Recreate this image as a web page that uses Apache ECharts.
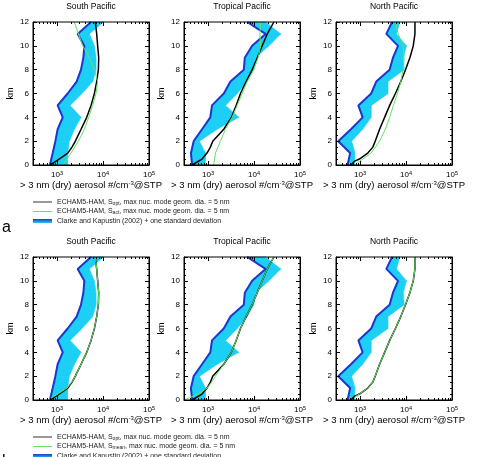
<!DOCTYPE html>
<html>
<head>
<meta charset="utf-8">
<script src="https://cdn.jsdelivr.net/npm/echarts@6/dist/echarts.min.js"></script>
<style>
html, body { margin: 0; padding: 0; background: #fff; }
#chart { width: 490px; height: 457px; }
</style>
</head>
<body>
<div id="chart"></div>
<script>
// observation levels (km) for the Clarke and Kapustin profiles
var obsKm = [0, 1, 2, 3, 4, 5, 6, 7, 8, 9, 10, 11, 12];

// South Pacific
var spObsMean = [700, 805, 920, 1030, 1330, 1030, 1700, 2670, 3320, 3740, 3920, 2810, 5480];
var spObsUpper = [1700, 1700, 1850, 2380, 3320, 1920, 3490, 5960, 7050, 7050, 6470, 5030, 10200];
var spBlackKm = [0, 0.4, 1, 1.5, 2, 3, 4, 5, 6, 7, 8, 9, 10, 11, 12];
var spBlack = [705, 1030, 1710, 2120, 2500, 3330, 4420, 5490, 6490, 7280, 7920, 8050, 7650, 7280, 6810];
var spGreenAKm = [0, 1, 2, 3, 4, 5, 6, 7, 8, 9, 10, 11, 12];
var spGreenA = [1330, 2010, 2910, 3930, 4880, 5960, 7040, 7650, 6490, 5050, 3610, 2910, 2380];
var spGreenBKm = [0, 0.4, 1, 1.5, 2, 3, 4, 5, 6, 7, 8, 9, 10, 11, 12];
var spGreenB = [630, 950, 1650, 2100, 2500, 3330, 4420, 5490, 6490, 7280, 7920, 8050, 7650, 7280, 6810];

// Tropical Pacific
var tpObsMean = [450, 425, 487, 740, 1120, 1220, 2200, 3070, 6000, 6300, 9100, 17800, 7100];
var tpObsUpper = [875, 875, 650, 1570, 4650, 2390, 4300, 7100, 9900, 10800, 21000, 38000, 17800];
var tpBlackKm = [0, 0.5, 1, 1.5, 2, 3, 4, 5, 6, 7, 8, 9, 10, 11, 12];
var tpBlack = [448, 740, 950, 1125, 1264, 2198, 3230, 4085, 5075, 6745, 9120, 11720, 15070, 19370, 27090];
var tpGreenAKm = [0, 1, 2, 3, 4, 5, 6, 7, 8, 9, 10, 11, 12];
var tpGreenA = [1330, 1450, 1860, 2390, 3340, 4300, 5520, 7100, 9900, 12300, 13900, 13400, 13900];
var tpGreenBKm = [0, 0.5, 1, 1.5, 2, 3, 4, 5, 6, 7, 8, 9, 10, 11, 12];
var tpGreenB = [300, 620, 950, 1200, 1450, 2200, 3230, 4085, 5075, 6745, 9120, 11720, 15070, 19370, 27090];

// North Pacific
var npObsMean = [535, 610, 335, 635, 1140, 920, 1750, 2250, 4400, 5200, 6700, 3730, 4970];
var npObsUpper = [750, 775, 655, 1140, 1750, 1750, 4050, 4050, 9100, 8700, 10200, 6180, 7300];
var npBlackKm = [0, 0.3, 0.5, 1, 1.5, 2, 3, 4, 5, 6, 7, 8, 9, 10, 11, 12];
var npBlack = [634, 750, 967, 1474, 1897, 2136, 2661, 3425, 4413, 5877, 7695, 9750, 12130, 14370, 15640, 15640];
var npGreenAKm = [0, 0.5, 1, 2, 3, 4, 5, 6, 7, 8, 9, 10, 11, 12];
var npGreenA = [750, 1144, 1746, 2661, 3543, 4413, 5315, 6503, 7695, 8660, 9120, 8660, 6730, 5877];
var npGreenBKm = [0, 0.3, 0.5, 1, 1.5, 2, 3, 4, 5, 6, 7, 8, 9, 10, 11, 12];
var npGreenB = [725, 800, 967, 1474, 1897, 2136, 2661, 3425, 4413, 5877, 7695, 9750, 12130, 14370, 15640, 15640];

var regionNames = ['South Pacific', 'Tropical Pacific', 'North Pacific'];
var xMajorTicks = [1000, 10000];
var xMinorTicks = [400, 500, 600, 700, 800, 900,
    2000, 3000, 4000, 5000, 6000, 7000, 8000, 9000,
    20000, 30000, 40000, 50000, 60000, 70000, 80000, 90000];

var legendA = [
    'ECHAM5-HAM, S{sub|opt}, max nuc. mode geom. dia. = 5 nm',
    'ECHAM5-HAM, S{sub|act}, max nuc. mode geom. dia. = 5 nm',
    'Clarke and Kapustin (2002) + one standard deviation'
];
var legendB = [
    'ECHAM5-HAM, S{sub|opt}, max nuc. mode geom. dia. = 5 nm',
    'ECHAM5-HAM, S{sub|mean}, max nuc. mode geom. dia. = 5 nm',
    'Clarke and Kapustin (2002) + one standard deviation'
];

var regions = [
    {mean: spObsMean, upper: spObsUpper, blackKm: spBlackKm, black: spBlack,
     green: [[spGreenAKm, spGreenA], [spGreenBKm, spGreenB]]},
    {mean: tpObsMean, upper: tpObsUpper, blackKm: tpBlackKm, black: tpBlack,
     green: [[tpGreenAKm, tpGreenA], [tpGreenBKm, tpGreenB]]},
    {mean: npObsMean, upper: npObsUpper, blackKm: npBlackKm, black: npBlack,
     green: [[npGreenAKm, npGreenA], [npGreenBKm, npGreenB]]}
];

// layout
var FONT = '"Liberation Sans", Arial, sans-serif';
var CYAN = '#1ccff5';
var BLUE = '#1e36cf';
var GREEN = '#66e266';
var panelLeft = [33, 184, 336];
var panelTop = [22, 257];
var panelW = 116, panelH = 143;

function pairs(xs, ys) {
    return xs.map(function (v, i) { return [v, ys[i]]; });
}

var grids = [], xAxes = [], yAxes = [], series = [], graphics = [];

for (var r = 0; r < 2; r++) {
    for (var c = 0; c < 3; c++) {
        var p = r * 3 + c;
        var reg = regions[c];
        grids.push({
            left: panelLeft[c], top: panelTop[r], width: panelW, height: panelH,
            show: true, borderColor: '#000', borderWidth: 1, z: 5
        });
        xAxes.push({
            type: 'log', gridIndex: p, min: 300, max: 100000, position: 'bottom', z: 5,
            axisLine: {show: true, lineStyle: {color: '#000', width: 1}},
            axisTick: {show: false},
            splitLine: {show: false},
            axisLabel: {
                color: '#000', fontFamily: FONT, fontSize: 8, margin: 5,
                formatter: function (v) {
                    var e = Math.round(Math.log10(v));
                    if (Math.abs(v - Math.pow(10, e)) > v * 1e-6) return '';
                    return '10{sup|' + e + '}';
                },
                rich: {sup: {fontSize: 5.5, fontFamily: FONT, verticalAlign: 'top', padding: [0, 0, 4, 0]}}
            },
            name: '> 3 nm (dry) aerosol #/cm{sup|-3}@STP',
            nameLocation: 'middle', nameGap: 14,
            nameTextStyle: {
                color: '#000', fontFamily: FONT, fontSize: 9.5,
                rich: {sup: {fontSize: 6, fontFamily: FONT, verticalAlign: 'top', padding: [0, 0, 5, 0]}}
            }
        });
        [0, 1].forEach(function (side) {
            yAxes.push({
                type: 'value', gridIndex: p, min: 0, max: 12, interval: 2, z: 5,
                position: side === 0 ? 'left' : 'right',
                axisLine: {show: true, lineStyle: {color: '#000', width: 1}},
                axisTick: {show: true, inside: true, length: 4, lineStyle: {color: '#000'}},
                minorTick: {show: true, splitNumber: 4, length: 2, lineStyle: {color: '#000'}},
                splitLine: {show: false},
                axisLabel: {show: side === 0, color: '#000', fontFamily: FONT, fontSize: 8, margin: 4},
                name: side === 0 ? 'km' : '',
                nameLocation: 'middle', nameGap: 18, nameRotate: 90,
                nameTextStyle: {color: '#000', fontFamily: FONT, fontSize: 9}
            });
        });

        var yi = 2 * p;
        // observed band: mean to mean + one standard deviation
        var bandData = [];
        for (var i = 0; i < obsKm.length - 1; i++) {
            bandData.push([reg.mean[i], obsKm[i], reg.upper[i], reg.mean[i + 1], obsKm[i + 1], reg.upper[i + 1]]);
        }
        series.push({
            type: 'custom', xAxisIndex: p, yAxisIndex: yi, silent: true, z: 1,
            data: bandData,
            encode: {x: [0, 2, 3, 5], y: [1, 4]},
            renderItem: function (params, api) {
                var a = api.coord([api.value(0), api.value(1)]);
                var b = api.coord([api.value(3), api.value(4)]);
                var cc = api.coord([api.value(5), api.value(4)]);
                var d = api.coord([api.value(2), api.value(1)]);
                return {type: 'polygon', shape: {points: [a, b, cc, d]},
                        style: {fill: CYAN, stroke: CYAN, lineWidth: 0.7}};
            }
        });
        series.push({
            type: 'line', xAxisIndex: p, yAxisIndex: yi, z: 2, silent: true,
            data: pairs(reg.mean, obsKm), symbol: 'none',
            lineStyle: {color: BLUE, width: 2}
        });
        series.push({
            type: 'line', xAxisIndex: p, yAxisIndex: yi, z: 3, silent: true,
            data: pairs(reg.black, reg.blackKm), symbol: 'none',
            lineStyle: {color: '#000', width: 1.5}
        });
        series.push({
            type: 'line', xAxisIndex: p, yAxisIndex: yi, z: 4, silent: true,
            data: pairs(reg.green[r][1], reg.green[r][0]), symbol: 'none',
            lineStyle: {color: GREEN, width: 1}
        });
        // log-axis ticks on bottom and top edges
        var tickData = xMajorTicks.map(function (v) { return [v, 4]; })
            .concat(xMinorTicks.map(function (v) { return [v, 2]; }));
        series.push({
            type: 'custom', xAxisIndex: p, yAxisIndex: yi, silent: true, z: 6,
            data: tickData, encode: {x: 0},
            renderItem: function (params, api) {
                var bot = api.coord([api.value(0), 0]);
                var top = api.coord([api.value(0), 12]);
                var len = api.value(1);
                var x = Math.round(bot[0]) + 0.5;
                return {type: 'group', children: [
                    {type: 'line', shape: {x1: x, y1: bot[1], x2: x, y2: bot[1] - len}, style: {stroke: '#000', lineWidth: 1}},
                    {type: 'line', shape: {x1: x, y1: top[1], x2: x, y2: top[1] + len}, style: {stroke: '#000', lineWidth: 1}}
                ]};
            }
        });

        graphics.push({
            type: 'text', x: panelLeft[c] + panelW / 2, y: panelTop[r] - 15,
            style: {text: regionNames[c], fill: '#000', font: '8.5px ' + FONT, textAlign: 'center', textVerticalAlign: 'middle'}
        });
    }
}

// legends under each row
[legendA, legendB].forEach(function (texts, r) {
    var y0 = panelTop[r] + 180;
    graphics.push({type: 'line', shape: {x1: 33, y1: y0, x2: 52, y2: y0}, style: {stroke: '#333', lineWidth: 1}});
    graphics.push({type: 'line', shape: {x1: 33, y1: y0 + 9.5, x2: 52, y2: y0 + 9.5}, style: {stroke: GREEN, lineWidth: 1}});
    graphics.push({
        type: 'rect', shape: {x: 33, y: y0 + 17, width: 19, height: 4},
        style: {fill: new echarts.graphic.LinearGradient(0, 0, 0, 1, [
            {offset: 0, color: BLUE}, {offset: 1, color: CYAN}])}
    });
    texts.forEach(function (t, k) {
        graphics.push({
            type: 'text', x: 57, y: y0 + k * 9.5,
            style: {
                text: t, fill: '#222', font: '7px ' + FONT, textVerticalAlign: 'middle',
                rich: {sub: {fontSize: 5, fontFamily: FONT, fill: '#222', verticalAlign: 'bottom', padding: [3, 0, 0, 0]}}
            }
        });
    });
});

graphics.push({type: 'text', x: 2, y: 228, style: {text: 'a', fill: '#000', font: '16px ' + FONT, textVerticalAlign: 'middle'}});
graphics.push({type: 'text', x: 2, y: 462, style: {text: 'b', fill: '#000', font: '16px ' + FONT, textVerticalAlign: 'middle'}});

var chart = echarts.init(document.getElementById('chart'));
chart.setOption({
    animation: false,
    backgroundColor: '#fff',
    grid: grids,
    xAxis: xAxes,
    yAxis: yAxes,
    series: series,
    graphic: {elements: graphics}
});
</script>
</body>
</html>
